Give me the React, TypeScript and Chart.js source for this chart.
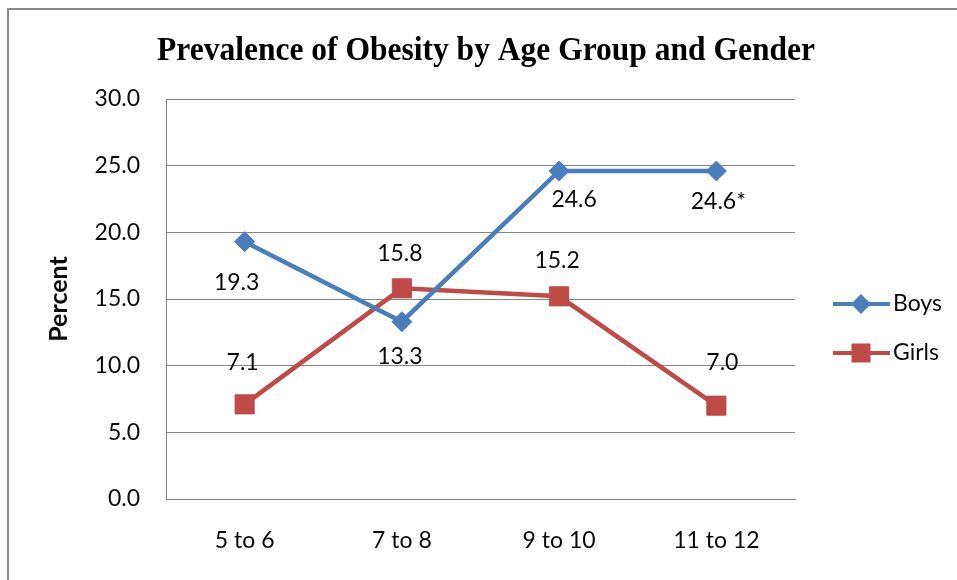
import React, { useEffect, useRef } from "react";
import { Chart, registerables } from "chart.js";

Chart.register(...registerables);

// ---- data ----
const categories = ["5 to 6", "7 to 8", "9 to 10", "11 to 12"];
const boys = [19.3, 13.3, 24.6, 24.6];
const girls = [7.1, 15.8, 15.2, 7.0];
const boysNotes = ["", "", "", "*"];
const girlsNotes = ["", "", "", ""];
const seriesNames = ["Boys", "Girls"];
const titleText = "Prevalence of Obesity by Age Group and Gender";
const yTitleText = "Percent";
const yMin = 0;
const yMax = 30;
const yStep = 5;

// ---- styling ----
const BLUE = "#4A7EBB";
const RED = "#BE4B48";
const GRID = "#868686";
const TEXT = "#0a0a0a";
const SANS = "Lato, 'Open Sans', sans-serif";
const FS = 23;

// data label offsets (pixels from point) per series / point
const labelOffsets = [
  [[-8, 41], [-2, 35], [15, 29], [2, 31]],
  [[-2, -42], [-2, -35], [-2, -36], [6, -43]],
];

const decorPlugin = {
  id: "decor",
  beforeDraw(chart: any) {
    const ctx = chart.ctx;
    ctx.save();
    ctx.fillStyle = "#ffffff";
    ctx.fillRect(0, 0, chart.width, chart.height);
    ctx.fillStyle = "#8a8a8a";
    ctx.fillRect(7, 8, 2, chart.height - 8);
    ctx.fillRect(7, 8, chart.width - 7, 2);
    ctx.restore();
  },
  afterDraw(chart: any) {
    const ctx = chart.ctx;
    ctx.save();
    // title
    ctx.font = "bold 33px 'Liberation Serif', 'Times New Roman', serif";
    ctx.fillStyle = "#000";
    ctx.textBaseline = "alphabetic";
    ctx.textAlign = "left";
    const w = ctx.measureText(titleText).width;
    const targetW = 658;
    const sx = Math.min(1, targetW / w);
    ctx.save();
    ctx.translate(486 - (w * sx) / 2, 60);
    ctx.scale(sx, 1);
    ctx.fillText(titleText, 0, 0);
    ctx.restore();

    // data labels
    ctx.font = `${FS}px ${SANS}`;
    ctx.fillStyle = TEXT;
    ctx.textAlign = "center";
    ctx.textBaseline = "middle";
    const notes = [boysNotes, girlsNotes];
    chart.data.datasets.forEach((ds: any, di: number) => {
      const meta = chart.getDatasetMeta(di);
      meta.data.forEach((pt: any, i: number) => {
        const v = ds.data[i];
        const [dx, dy] = labelOffsets[di][i];
        ctx.fillText(v.toFixed(1) + notes[di][i], pt.x + dx, pt.y + dy);
      });
    });

    // legend
    const legendY = [304, 353];
    chart.data.datasets.forEach((ds: any, di: number) => {
      const y = legendY[di];
      ctx.strokeStyle = ds.borderColor;
      ctx.lineWidth = 4;
      ctx.beginPath();
      ctx.moveTo(833, y);
      ctx.lineTo(890, y);
      ctx.stroke();
      ctx.fillStyle = ds.borderColor;
      const cx = 861;
      ctx.beginPath();
      if (ds.pointStyle === "rectRot") {
        const r = 10;
        ctx.moveTo(cx - r, y);
        ctx.lineTo(cx, y - r);
        ctx.lineTo(cx + r, y);
        ctx.lineTo(cx, y + r);
        ctx.closePath();
      } else {
        ctx.rect(cx - 9.5, y - 9.5, 19, 19);
      }
      ctx.fill();
      ctx.fillStyle = TEXT;
      ctx.font = `${FS}px ${SANS}`;
      ctx.textAlign = "left";
      ctx.textBaseline = "middle";
      ctx.fillText(ds.label, 893, y);
    });
    ctx.restore();
  },
};

export default function App() {
  const ref = useRef<HTMLCanvasElement | null>(null);

  useEffect(() => {
    if (!ref.current) return;
    const chart = new Chart(ref.current, {
      type: "line",
      data: {
        labels: categories,
        datasets: [
          {
            label: seriesNames[0],
            data: boys,
            borderColor: BLUE,
            backgroundColor: BLUE,
            borderWidth: 4.5,
            pointStyle: "rectRot",
            pointRadius: 10,
            pointBorderWidth: 1,
            pointBorderColor: BLUE,
            pointBackgroundColor: BLUE,
            tension: 0,
          },
          {
            label: seriesNames[1],
            data: girls,
            borderColor: RED,
            backgroundColor: RED,
            borderWidth: 4.5,
            pointStyle: "rect",
            pointRadius: 13.5,
            pointBorderWidth: 1,
            pointBorderColor: RED,
            pointBackgroundColor: RED,
            tension: 0,
          },
        ],
      },
      options: {
        responsive: false,
        animation: false,
        devicePixelRatio: 1,
        layout: { padding: { left: 0, top: 99, right: 162, bottom: 0 } },
        plugins: {
          legend: { display: false },
          title: { display: false },
          tooltip: { enabled: false },
        },
        scales: {
          x: {
            offset: true,
            grid: { display: false, drawTicks: false },
            border: { display: true, color: GRID, width: 1 },
            ticks: { padding: 28, color: TEXT, font: { family: SANS, size: FS } },
            afterFit: (s: any) => {
              s.height = 81;
            },
          },
          y: {
            min: yMin,
            max: yMax,
            ticks: {
              stepSize: yStep,
              padding: 26,
              color: TEXT,
              font: { family: SANS, size: FS },
              callback: (v: any) => Number(v).toFixed(1),
            },
            grid: { color: GRID, lineWidth: 1, drawTicks: false },
            border: { display: true, color: GRID, width: 1 },
            title: {
              display: true,
              text: yTitleText,
              color: TEXT,
              font: { family: SANS, size: 25, weight: "bold" },
              padding: { top: 44, bottom: 0 },
            },
            afterFit: (s: any) => {
              s.width = 166;
            },
          },
        },
      },
      plugins: [decorPlugin],
    });
    return () => chart.destroy();
  }, []);

  return (
    <div style={{ position: "fixed", left: 0, top: 0, width: 957, height: 580, background: "#fff" }}>
      <canvas ref={ref} width={957} height={580} style={{ display: "block" }} />
    </div>
  );
}
